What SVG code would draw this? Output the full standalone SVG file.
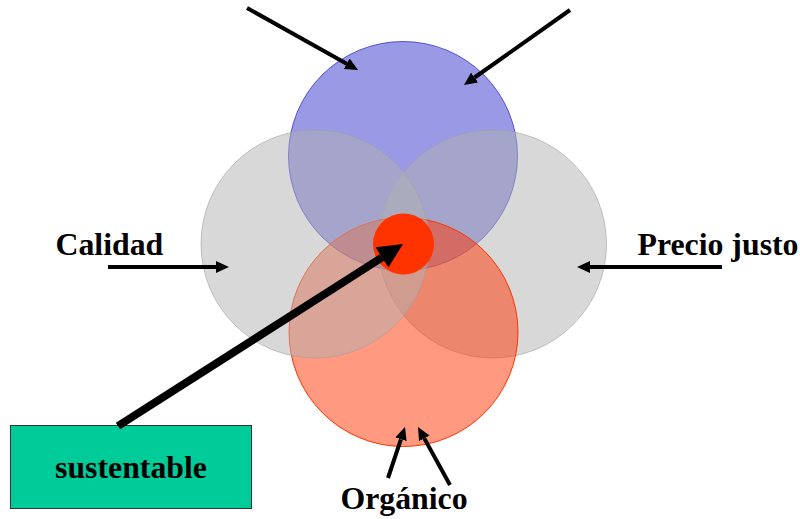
<svg xmlns="http://www.w3.org/2000/svg" width="800" height="519" viewBox="0 0 800 519">
<style>
.lbl{font-family:"Liberation Serif","Times New Roman",serif;font-weight:bold;font-size:31.8px;fill:#000}
.gray{fill:#b2b2b2;fill-opacity:0.5;stroke:#a0a0a0;stroke-opacity:0.6;stroke-width:1}
.arr{stroke:#000;fill:none}
</style>
<defs>
<marker id="hs" markerUnits="userSpaceOnUse" markerWidth="13" markerHeight="12" refX="0" refY="6" orient="auto"><path d="M0,0 L13,6 L0,12 z" fill="#000"/></marker>
<marker id="hb" markerUnits="userSpaceOnUse" markerWidth="25" markerHeight="24" refX="0" refY="12" orient="auto"><path d="M0,0 L25,12 L0,24 z" fill="#000"/></marker>
</defs>
<rect width="800" height="519" fill="#fff"/>
<g id="blue"><circle cx="403" cy="156" r="114.5" fill="#3333cc" fill-opacity="0.5" stroke="#3333cc" stroke-opacity="0.8" stroke-width="1"/></g>
<g id="precio-circle"><circle cx="492.5" cy="244" r="114" class="gray"/></g>
<g id="organico-circle"><circle cx="403.5" cy="332" r="114.5" fill="#ff3300" fill-opacity="0.5" stroke="#ff3300" stroke-width="1"/></g>
<g id="calidad-circle"><circle cx="315" cy="244" r="114" class="gray"/></g>
<g id="center"><circle cx="403.5" cy="244" r="30.5" fill="#ff3300"/></g>
<g id="sustentable"><rect x="10.5" y="425.5" width="241" height="83" fill="#00cc99" stroke="#333" stroke-width="1"/><text x="131" y="478" class="lbl" text-anchor="middle">sustentable</text></g>
<g id="calidad"><text x="55.5" y="255" class="lbl">Calidad</text></g>
<g id="precio"><text x="637.5" y="255" class="lbl">Precio justo</text></g>
<g id="organico"><text x="404" y="509" class="lbl" text-anchor="middle">Orgánico</text></g>
<g id="connectors">
<line class="arr" x1="247" y1="8" x2="346.7" y2="63.7" stroke-width="4" marker-end="url(#hs)"/>
<line class="arr" x1="570" y1="10" x2="474.6" y2="77.5" stroke-width="4" marker-end="url(#hs)"/>
<line class="arr" x1="108" y1="267" x2="216" y2="267" stroke-width="4" marker-end="url(#hs)"/>
<line class="arr" x1="722" y1="267" x2="590" y2="267" stroke-width="4" marker-end="url(#hs)"/>
<line class="arr" x1="388" y1="478" x2="400.9" y2="439.3" stroke-width="4" marker-end="url(#hs)"/>
<line class="arr" x1="450" y1="485" x2="424.3" y2="438.4" stroke-width="4" marker-end="url(#hs)"/>
<line class="arr" x1="118" y1="426" x2="381.9" y2="257.5" stroke-width="8" marker-end="url(#hb)"/>
</g>
</svg>
